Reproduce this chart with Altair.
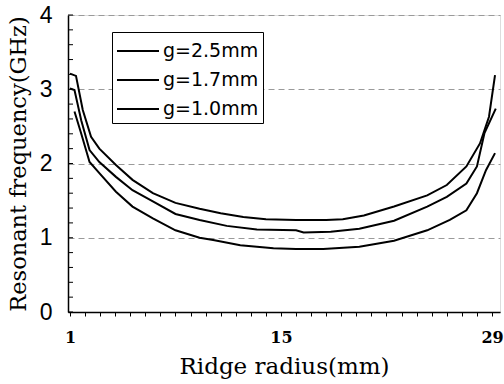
import altair as alt
import pandas as pd

# g = 2.5 mm
x_25 = [1.0, 1.4, 1.85, 2.4, 2.95, 4.05, 5.15, 6.5, 8.0, 9.6, 11.0, 12.5, 14.0, 16.0, 18.0, 19.1, 20.5, 22.5, 24.7, 26.0, 27.3, 28.2, 28.8, 29.2]
y_25 = [3.21, 3.18, 2.72, 2.36, 2.20, 1.98, 1.78, 1.60, 1.47, 1.39, 1.33, 1.28, 1.25, 1.24, 1.24, 1.25, 1.30, 1.42, 1.57, 1.71, 1.96, 2.27, 2.63, 3.19]
# g = 1.7 mm
x_17 = [1.0, 1.3, 1.75, 2.3, 2.95, 4.05, 5.15, 6.5, 8.0, 9.6, 11.4, 13.4, 16.0, 16.5, 18.3, 20.2, 22.5, 24.7, 26.0, 27.3, 28.0, 28.5, 29.25]
y_17 = [3.01, 2.99, 2.58, 2.18, 2.02, 1.82, 1.64, 1.49, 1.32, 1.24, 1.16, 1.11, 1.10, 1.07, 1.08, 1.12, 1.23, 1.42, 1.55, 1.73, 1.96, 2.41, 2.74]
# g = 1.0 mm
x_10 = [1.3, 1.75, 2.3, 2.95, 4.05, 5.15, 6.5, 8.0, 9.6, 10.5, 12.3, 14.5, 16.0, 17.8, 20.2, 22.5, 24.7, 26.2, 27.3, 28.0, 28.6, 29.2]
y_10 = [2.70, 2.40, 2.02, 1.87, 1.62, 1.42, 1.26, 1.10, 1.00, 0.97, 0.90, 0.86, 0.85, 0.85, 0.88, 0.96, 1.10, 1.24, 1.37, 1.60, 1.91, 2.14]

series_names = ["g=2.5mm", "g=1.7mm", "g=1.0mm"]
x_ticks = list(range(1, 30))
x_labels = [1, 15, 29]
y_major = [0, 1, 2, 3, 4]
y_minor = [round(i * 0.2, 1) for i in range(21)]

frames = []
for name, xs, ys in zip(series_names, [x_25, x_17, x_10], [y_25, y_17, y_10]):
    frames.append(pd.DataFrame({"x": xs, "y": ys, "g": name}))
df = pd.concat(frames, ignore_index=True)
minor_df = pd.DataFrame({"y": y_minor})

x_scale = alt.Scale(domain=[0.87, 29.53], nice=False, zero=False)
y_scale = alt.Scale(domain=[0, 4], nice=False)

label_test = " || ".join(f"datum.value == {v}" for v in x_labels)

y_axis = alt.Axis(values=y_major, title="Resonant frequency(GHz)", grid=True,
                  gridColor="#9a9a9a", gridDash=[6, 4], gridWidth=1, tickSize=0,
                  domainColor="black", domainWidth=1.5,
                  labelFont="Liberation Sans", labelFontWeight="normal", labelFontSize=23,
                  labelColor="black", labelPadding=16,
                  titleFont="DejaVu Serif", titleFontWeight="normal", titleFontSize=22.5,
                  titleColor="black", titlePadding=9)

lines = alt.Chart(df).mark_line(strokeWidth=2, color="black").encode(
    x=alt.X("x:Q", scale=x_scale,
            axis=alt.Axis(values=x_ticks, labelExpr=f"({label_test}) ? datum.value : ''",
                          title="Ridge radius(mm)", grid=False, tickSize=4, tickColor="black",
                          tickWidth=1, domainColor="black", domainWidth=1.5,
                          labelFont="DejaVu Serif", labelFontWeight="bold", labelFontSize=16,
                          labelColor="black", labelPadding=13, labelFlush=False,
                          titleFont="DejaVu Serif", titleFontWeight="normal", titleFontSize=23,
                          titleColor="black", titlePadding=10)),
    y=alt.Y("y:Q", scale=y_scale, axis=y_axis),
    color=alt.Color("g:N", scale=alt.Scale(domain=series_names, range=["black"] * 3),
                    legend=alt.Legend(title=None, orient="none", legendX=44, legendY=17,
                                      symbolType="M-1,0L2,0", symbolSize=784, symbolStrokeWidth=2,
                                      labelFont="DejaVu Sans", labelFontSize=19,
                                      labelColor="black", strokeColor="black", fillColor="white",
                                      padding=4, rowPadding=4, labelOffset=17)),
)

minor = alt.Chart(minor_df).mark_rule(color="black", strokeWidth=1).encode(
    y=alt.Y("y:Q", scale=y_scale, axis=y_axis),
    x=alt.value(0),
    x2=alt.value(5),
)

chart = alt.layer(lines, minor).properties(
    width=432, height=297,
    padding={"left": 68, "top": 15, "right": 4, "bottom": 72},
    autosize=alt.AutoSizeParams(type="none"),
).configure_view(stroke=None).configure(background="white")

chart.save("out.html", embed_options={"renderer": "svg", "actions": False})
